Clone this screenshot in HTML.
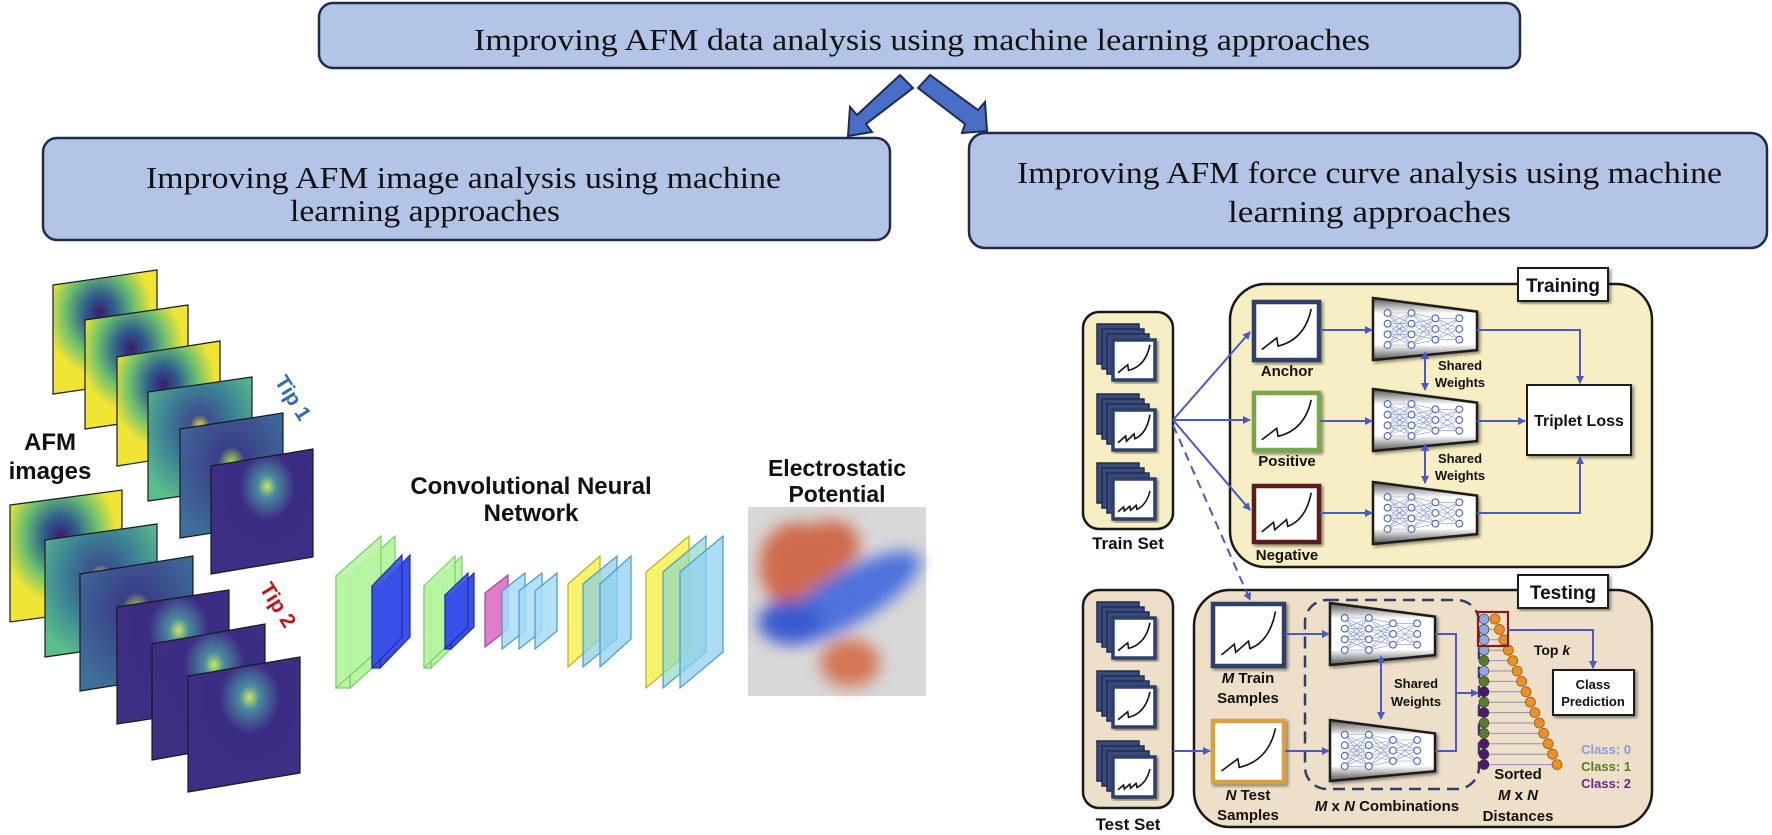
<!DOCTYPE html>
<html><head><meta charset="utf-8"><style>
html,body{margin:0;padding:0;background:#fff}
svg{display:block}
.hd{font-family:"Liberation Serif",serif;fill:#111}
.sb{font-family:"Liberation Sans",sans-serif;font-weight:bold;fill:#111}
</style></head><body>
<svg id="s" xmlns="http://www.w3.org/2000/svg" width="1772" height="835" viewBox="0 0 1772 835">
<defs>
<marker id="ah" markerWidth="8" markerHeight="8" refX="7" refY="4" orient="auto" markerUnits="userSpaceOnUse"><path d="M0,0 L8,4 L0,8 z" fill="#4a5ac0"/></marker>
<marker id="ahs" markerWidth="8" markerHeight="8" refX="1" refY="4" orient="auto-start-reverse" markerUnits="userSpaceOnUse"><path d="M0,0 L8,4 L0,8 z" fill="#4a5ac0"/></marker>
<radialGradient id="gy" cx="0.45" cy="0.35" r="0.6"><stop offset="0" stop-color="#3a1c6e"/><stop offset="0.25" stop-color="#2f5f8e"/><stop offset="0.55" stop-color="#6cc070"/><stop offset="0.85" stop-color="#f0e535"/></radialGradient>
<radialGradient id="gg" cx="0.5" cy="0.4" r="0.65"><stop offset="0" stop-color="#e8e040"/><stop offset="0.15" stop-color="#3d4f8e"/><stop offset="0.5" stop-color="#3b7f95"/><stop offset="1" stop-color="#5cbf8a"/></radialGradient>
<radialGradient id="gt" cx="0.5" cy="0.4" r="0.65"><stop offset="0" stop-color="#b0e050"/><stop offset="0.2" stop-color="#3a3f88"/><stop offset="1" stop-color="#3f6f9a"/></radialGradient>
<radialGradient id="gd" cx="0.55" cy="0.3" r="0.6"><stop offset="0" stop-color="#c8e860"/><stop offset="0.15" stop-color="#4a8aa0"/><stop offset="0.45" stop-color="#3b2c84"/><stop offset="1" stop-color="#3e2f85"/></radialGradient>
<linearGradient id="netg" x1="0" y1="0" x2="0" y2="1"><stop offset="0" stop-color="#555"/><stop offset="0.25" stop-color="#fff"/><stop offset="0.75" stop-color="#fff"/><stop offset="1" stop-color="#555"/></linearGradient>
<filter id="bl" x="-30%" y="-30%" width="160%" height="160%"><feGaussianBlur stdDeviation="8"/></filter>
<filter id="sh"><feDropShadow dx="2" dy="2" stdDeviation="1.5" flood-color="#000" flood-opacity="0.45"/></filter>
</defs>

<rect x="319" y="3" width="1201" height="65" rx="14" fill="#b4c4e6" stroke="#1f2b4a" stroke-width="2.5"/>
<text class="hd" x="474" y="50" font-size="31" textLength="896" lengthAdjust="spacingAndGlyphs">Improving AFM data analysis using machine learning approaches</text>
<rect x="43" y="138" width="847" height="102" rx="14" fill="#b4c4e6" stroke="#1f2b4a" stroke-width="2.5"/>
<text class="hd" x="146" y="188" font-size="31" textLength="635" lengthAdjust="spacingAndGlyphs">Improving AFM image analysis using machine</text>
<text class="hd" x="290" y="221" font-size="31" textLength="270" lengthAdjust="spacingAndGlyphs">learning approaches</text>
<rect x="969" y="133" width="798" height="115" rx="16" fill="#b4c4e6" stroke="#1f2b4a" stroke-width="2.5"/>
<text class="hd" x="1017" y="183" font-size="31" textLength="705" lengthAdjust="spacingAndGlyphs">Improving AFM force curve analysis using machine</text>
<text class="hd" x="1228" y="222" font-size="31" textLength="283" lengthAdjust="spacingAndGlyphs">learning approaches</text>

<polygon points="900,75 913,88 866,124 872,132 848,136 850,107 857,115" fill="#4a6ec8" stroke="#1f2b4a" stroke-width="2"/>
<polygon points="930,75 918,88 965,124 962,133 987,131 985,102 978,110" fill="#4a6ec8" stroke="#1f2b4a" stroke-width="2"/>

<g id="afm" stroke="#1a1a1a" stroke-width="1.2"></g>
<text class="sb" x="50" y="450" font-size="24" text-anchor="middle">AFM</text>
<text class="sb" x="50" y="479" font-size="24" text-anchor="middle">images</text>
<text class="sb" x="293" y="405" font-size="21" text-anchor="middle" style="fill:#2e6db4" transform="rotate(58 293 398)">Tip 1</text>
<text class="sb" x="278" y="612" font-size="21" text-anchor="middle" style="fill:#c0141c" transform="rotate(58 278 605)">Tip 2</text>

<text class="sb" x="531" y="494" font-size="24" text-anchor="middle">Convolutional Neural</text>
<text class="sb" x="531" y="521" font-size="24" text-anchor="middle">Network</text>
<g id="cnn" stroke-width="1.2"></g>

<text class="sb" x="837" y="476" font-size="23" text-anchor="middle">Electrostatic</text>
<text class="sb" x="837" y="502" font-size="23" text-anchor="middle">Potential</text>
<rect x="748" y="507" width="178" height="189" fill="#d8d8d8"/>
<g filter="url(#bl)">
<ellipse cx="800" cy="568" rx="40" ry="46" fill="#cf6a4c" transform="rotate(-15 800 568)"/>
<ellipse cx="830" cy="545" rx="30" ry="25" fill="#cf6a4c"/>
<ellipse cx="848" cy="598" rx="82" ry="26" fill="#4e72dc" transform="rotate(-30 848 598)"/>
<ellipse cx="790" cy="622" rx="32" ry="22" fill="#3a5ad0"/>
<ellipse cx="850" cy="663" rx="30" ry="24" fill="#d47656"/>
</g>

<rect x="1230" y="284" width="422" height="283" rx="36" fill="#f7efc3" stroke="#1a1a1a" stroke-width="2.5"/>
<rect x="1194" y="590" width="458" height="237" rx="36" fill="#eedfc8" stroke="#1a1a1a" stroke-width="2.5"/>
<rect x="1083" y="312" width="90" height="217" rx="16" fill="#f7efc3" stroke="#1a1a1a" stroke-width="2.5"/>
<rect x="1083" y="590" width="90" height="218" rx="16" fill="#eedfc8" stroke="#1a1a1a" stroke-width="2.5"/>
<rect x="1518" y="268" width="90" height="33" fill="#fff" stroke="#1a1a1a" stroke-width="2" filter="url(#sh)"/>
<text class="sb" x="1563" y="292" font-size="19" text-anchor="middle">Training</text>
<rect x="1518" y="575" width="90" height="33" fill="#fff" stroke="#1a1a1a" stroke-width="2" filter="url(#sh)"/>
<text class="sb" x="1563" y="599" font-size="19" text-anchor="middle">Testing</text>
<text class="sb" x="1128" y="549" font-size="17" text-anchor="middle">Train Set</text>
<text class="sb" x="1128" y="830" font-size="17" text-anchor="middle">Test Set</text>

<rect x="1527" y="385" width="104" height="70" fill="#fff" stroke="#1a1a1a" stroke-width="2" filter="url(#sh)"/>
<text class="sb" x="1579" y="426" font-size="16" text-anchor="middle">Triplet Loss</text>
<rect x="1553" y="670" width="81" height="45" fill="#fff" stroke="#1a1a1a" stroke-width="2" filter="url(#sh)"/>
<text class="sb" x="1593" y="689" font-size="13" text-anchor="middle">Class</text>
<text class="sb" x="1593" y="706" font-size="13" text-anchor="middle">Prediction</text>

<text class="sb" x="1287" y="376" font-size="15" text-anchor="middle">Anchor</text>
<text class="sb" x="1287" y="466" font-size="15" text-anchor="middle">Positive</text>
<text class="sb" x="1287" y="560" font-size="15" text-anchor="middle">Negative</text>
<text class="sb" x="1460" y="370" font-size="13" text-anchor="middle">Shared</text>
<text class="sb" x="1460" y="387" font-size="13" text-anchor="middle">Weights</text>
<text class="sb" x="1460" y="463" font-size="13" text-anchor="middle">Shared</text>
<text class="sb" x="1460" y="480" font-size="13" text-anchor="middle">Weights</text>
<text class="sb" x="1416" y="688" font-size="13" text-anchor="middle">Shared</text>
<text class="sb" x="1416" y="706" font-size="13" text-anchor="middle">Weights</text>
<text class="sb" x="1248" y="683" font-size="15" text-anchor="middle"><tspan font-style="italic">M</tspan> Train</text>
<text class="sb" x="1248" y="703" font-size="15" text-anchor="middle">Samples</text>
<text class="sb" x="1248" y="800" font-size="15" text-anchor="middle"><tspan font-style="italic">N</tspan> Test</text>
<text class="sb" x="1248" y="820" font-size="15" text-anchor="middle">Samples</text>
<text class="sb" x="1387" y="811" font-size="15" text-anchor="middle"><tspan font-style="italic">M</tspan> x <tspan font-style="italic">N</tspan> Combinations</text>
<text class="sb" x="1518" y="779" font-size="15" text-anchor="middle">Sorted</text>
<text class="sb" x="1518" y="800" font-size="15" text-anchor="middle"><tspan font-style="italic">M</tspan> x <tspan font-style="italic">N</tspan></text>
<text class="sb" x="1518" y="821" font-size="15" text-anchor="middle">Distances</text>
<text class="sb" x="1552" y="655" font-size="14" text-anchor="middle">Top <tspan font-style="italic">k</tspan></text>
<text class="sb" x="1631" y="754" font-size="13" text-anchor="end" style="fill:#8a9ad6">Class: 0</text>
<text class="sb" x="1631" y="771" font-size="13" text-anchor="end" style="fill:#5a7a2a">Class: 1</text>
<text class="sb" x="1631" y="788" font-size="13" text-anchor="end" style="fill:#6a2a8a">Class: 2</text>

<rect x="1305" y="600" width="174" height="189" rx="22" fill="none" stroke="#2f3f6b" stroke-width="2.5" stroke-dasharray="12,7"/>

<g id="dyn"></g>

<g stroke="#4a5ac0" stroke-width="2" fill="none">
<line x1="1173" y1="420" x2="1250" y2="332" marker-end="url(#ah)"/>
<line x1="1173" y1="420" x2="1250" y2="420" marker-end="url(#ah)"/>
<line x1="1173" y1="420" x2="1250" y2="510" marker-end="url(#ah)"/>
<line x1="1173" y1="425" x2="1250" y2="600" stroke-dasharray="9,6" marker-end="url(#ah)"/>
<line x1="1320" y1="330" x2="1372" y2="330" marker-end="url(#ah)"/>
<line x1="1320" y1="421" x2="1372" y2="421" marker-end="url(#ah)"/>
<line x1="1320" y1="513" x2="1372" y2="513" marker-end="url(#ah)"/>
<polyline points="1477,330 1580,330 1580,383" marker-end="url(#ah)"/>
<line x1="1477" y1="421" x2="1525" y2="421" marker-end="url(#ah)"/>
<polyline points="1477,513 1580,513 1580,457" marker-end="url(#ah)"/>
<line x1="1425" y1="358" x2="1425" y2="390" marker-start="url(#ahs)" marker-end="url(#ah)"/>
<line x1="1425" y1="450" x2="1425" y2="483" marker-start="url(#ahs)" marker-end="url(#ah)"/>
<line x1="1173" y1="751" x2="1210" y2="751" marker-end="url(#ah)"/>
<line x1="1285" y1="634" x2="1329" y2="634" marker-end="url(#ah)"/>
<line x1="1285" y1="751" x2="1329" y2="751" marker-end="url(#ah)"/>
<polyline points="1435,634 1456,634 1456,751 1435,751"/>
<line x1="1456" y1="693" x2="1478" y2="693" marker-end="url(#ah)"/>
<line x1="1381" y1="662" x2="1381" y2="719" marker-start="url(#ahs)" marker-end="url(#ah)"/>
<polyline points="1508,630 1593,630 1593,668" marker-end="url(#ah)"/>
</g>
</svg>
<script>
(function(){
var NS='http://www.w3.org/2000/svg';
function el(t,a,p){var e=document.createElementNS(NS,t);for(var k in a)e.setAttribute(k,a[k]);p.appendChild(e);return e;}
var afm=document.getElementById('afm');
var top=[[53,157,285,270,109,'gy'],[85,188,320,305,109,'gy'],[117,220,357,341,109,'gy'],[148,252,392,377,109,'gg'],[180,283,429,413,109,'gt'],[211,313,466,449,108,'gd']];
var bot=[[10,122,505,490,117,'gy'],[45,157,540,524,117,'gg'],[80,193,574,556,117,'gt'],[117,229,607,590,117,'gd'],[152,265,644,624,116,'gd'],[188,300,676,657,116,'gd']];
top.concat(bot).forEach(function(p){
 el('polygon',{points:p[0]+','+p[2]+' '+p[1]+','+p[3]+' '+p[1]+','+(p[3]+p[4])+' '+p[0]+','+(p[2]+p[4]),fill:'url(#'+p[5]+')'},afm);
});
var cnn=document.getElementById('cnn');
function plane(x0,x1,t,b,d,fill,stroke,op){
 el('polygon',{points:x0+','+(t+d)+' '+x1+','+t+' '+x1+','+(b-d)+' '+x0+','+b,fill:fill,stroke:stroke,'fill-opacity':op||1},cnn);
}
function slab(x0,x1,t,b,d,th,fill,stroke){
 plane(x0+th,x1,t,b,d,fill,stroke);
 el('polygon',{points:x0+','+(t+d)+' '+(x0+th)+','+(t+d)+' '+(x0+th)+','+b+' '+x0+','+b,fill:fill,stroke:stroke},cnn);
 plane(x0,x1-th,t,b,d,fill,stroke,0.9);
}
slab(336,395,536,688,40,14,'#b8f5a2','#7ccc6a');
slab(372,410,555,668,31,8,'#3a50e8','#1e2ea0');
slab(424,462,556,668,30,7,'#b8f5a2','#7ccc6a');
slab(445,474,573,649,22,6,'#3a50e8','#1e2ea0');
plane(485,508,575,647,18,'#e07ccc','#a04a90');
plane(502,525,573,649,18,'#a8dcf5','#4a9ad0',0.85);
plane(519,542,573,649,18,'#a8dcf5','#4a9ad0',0.85);
plane(535,557,573,649,18,'#a8dcf5','#4a9ad0',0.85);
plane(568,600,556,667,28,'#f7f36a','#b8b030');
plane(583,617,556,667,28,'#8fd0e0','#4a9ad0',0.75);
plane(600,631,556,667,28,'#8fd0f0','#4a9ad0',0.75);
plane(646,689,536,688,36,'#f7f36a','#b8b030');
plane(663,706,536,688,36,'#8fd8c0','#4a9ad0',0.7);
plane(680,723,536,688,36,'#8fd0f0','#4a9ad0',0.75);

var g=document.getElementById('dyn');
function curve(x,y,w,h,type){
 var d;
 if(type==2) d='M'+(x+w*.12)+','+(y+h*.82)+' L'+(x+w*.3)+','+(y+h*.65)+' L'+(x+w*.32)+','+(y+h*.78)+' L'+(x+w*.5)+','+(y+h*.6)+' L'+(x+w*.52)+','+(y+h*.72)+' Q'+(x+w*.8)+','+(y+h*.6)+' '+(x+w*.88)+','+(y+h*.12);
 else if(type==3) d='M'+(x+w*.12)+','+(y+h*.82)+' L'+(x+w*.25)+','+(y+h*.7)+' L'+(x+w*.27)+','+(y+h*.8)+' L'+(x+w*.4)+','+(y+h*.68)+' L'+(x+w*.42)+','+(y+h*.78)+' L'+(x+w*.55)+','+(y+h*.66)+' L'+(x+w*.57)+','+(y+h*.76)+' Q'+(x+w*.8)+','+(y+h*.65)+' '+(x+w*.88)+','+(y+h*.3);
 else d='M'+(x+w*.12)+','+(y+h*.82)+' L'+(x+w*.35)+','+(y+h*.62)+' L'+(x+w*.37)+','+(y+h*.76)+' Q'+(x+w*.78)+','+(y+h*.65)+' '+(x+w*.88)+','+(y+h*.12);
 el('path',{d:d,fill:'none',stroke:'#111','stroke-width':1.6},g);
}
function chart(x,y,w,h,col,type){
 el('rect',{x:x,y:y,width:w,height:h,fill:'#fff',stroke:col,'stroke-width':4.5,filter:'url(#sh)'},g);
 curve(x,y,w,h,type);
}
chart(1254,302,65,58,'#2f3f6b',1);
chart(1254,393,65,57,'#78a84c',1);
chart(1254,486,65,56,'#5a1c1c',2);
chart(1213,604,71,62,'#2f3f6b',2);
chart(1213,721,71,61,'#d9a040',1);
function stack(x,y,type){
 for(var i=0;i<3;i++) el('rect',{x:x+5*i,y:y+5*i,width:42,height:40,fill:'#3a4a7a',stroke:'#1e2a50','stroke-width':1.5},g);
 el('rect',{x:x+16,y:y+16,width:42,height:40,fill:'#fff',stroke:'#2f3f6b','stroke-width':3.5,filter:'url(#sh)'},g);
 curve(x+16,y+16,42,40,type);
}
stack(1097,324,1);stack(1097,394,2);stack(1097,463,3);
stack(1097,602,1);stack(1097,671,1);stack(1097,741,3);
function net(x,y,w,h){
 var pts=x+','+y+' '+(x+w)+','+(y+h*.22)+' '+(x+w)+','+(y+h*.84)+' '+x+','+(y+h);
 el('polygon',{points:pts,fill:'url(#netg)',stroke:'#1a1a1a','stroke-width':2.5,filter:'url(#sh)'},g);
 var cx=[.14,.37,.6,.83],cnt=[4,4,3,3],cols=[];
 for(var c=0;c<4;c++){var arr=[];for(var r=0;r<cnt[c];r++){arr.push([x+w*cx[c],y+h*.5+(r-(cnt[c]-1)/2)*h*.172]);}cols.push(arr);}
 for(c=0;c<3;c++)cols[c].forEach(function(a){cols[c+1].forEach(function(b){el('line',{x1:a[0],y1:a[1],x2:b[0],y2:b[1],stroke:'#8090d8','stroke-width':.6},g);});});
 cols.forEach(function(a){a.forEach(function(p){el('circle',{cx:p[0],cy:p[1],r:3.4,fill:'#fff',stroke:'#5060c0','stroke-width':1.1},g);});});
}
net(1373,298,104,62);net(1373,389,104,62);net(1373,482,104,62);
net(1330,603,105,62);net(1330,720,105,61);
var cls=['#8fa8e0','#8fa8e0','#8fa8e0','#8fa8e0','#5a7a2a','#8fa8e0','#5a7a2a','#4a1a6a','#5a7a2a','#4a1a6a','#5a7a2a','#5a7a2a','#4a1a6a','#4a1a6a','#4a1a6a'];
for(var i=0;i<15;i++){var yy=619+i*10.4,ox=1495+i*4.43;
 el('line',{x1:1484,y1:yy,x2:ox,y2:yy,stroke:'#8a90b0','stroke-width':1},g);}
for(i=0;i<15;i++){var yy=619+i*10.4,ox=1495+i*4.43;
 el('circle',{cx:ox,cy:yy,r:5,fill:'#e8902a',stroke:'#9a5a10','stroke-width':.8},g);
 el('circle',{cx:1484,cy:yy,r:5,fill:cls[i],stroke:'#333','stroke-width':.6},g);}
el('rect',{x:1478,y:612,width:30,height:34,fill:'none',stroke:'#8a1a1a','stroke-width':2.2},g);
})();
</script>
</body></html>
